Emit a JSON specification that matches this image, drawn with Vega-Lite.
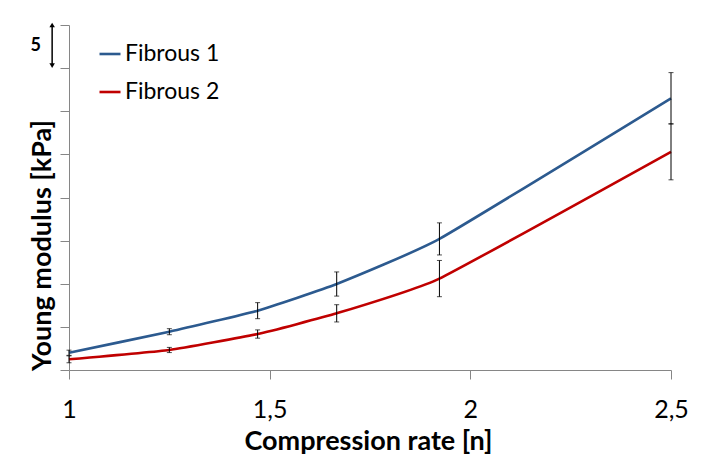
{
  "$schema": "https://vega.github.io/schema/vega-lite/v6.json",
  "width": 602,
  "height": 345,
  "autosize": {"type": "none"},
  "padding": {"left": 69, "top": 25, "right": 37, "bottom": 88},
  "background": "white",
  "config": {
    "view": {"stroke": null},
    "font": "Lato"
  },
  "datasets": {
    "main": [
      {"series": "Fibrous 1", "rate": 1.0, "value": 2.0, "lo": 1.7, "hi": 2.3},
      {"series": "Fibrous 1", "rate": 1.25, "value": 4.44, "lo": 4.09, "hi": 4.79},
      {"series": "Fibrous 1", "rate": 1.47, "value": 6.88, "lo": 5.95, "hi": 7.81},
      {"series": "Fibrous 1", "rate": 1.667, "value": 9.97, "lo": 8.57, "hi": 11.37},
      {"series": "Fibrous 1", "rate": 1.923, "value": 15.2, "lo": 13.34, "hi": 17.06},
      {"series": "Fibrous 1", "rate": 2.5, "value": 31.5, "lo": 28.52, "hi": 34.48},
      {"series": "Fibrous 2", "rate": 1.0, "value": 1.24, "lo": 0.84, "hi": 1.64},
      {"series": "Fibrous 2", "rate": 1.25, "value": 2.32, "lo": 2.02, "hi": 2.62},
      {"series": "Fibrous 2", "rate": 1.47, "value": 4.17, "lo": 3.69, "hi": 4.65},
      {"series": "Fibrous 2", "rate": 1.667, "value": 6.57, "lo": 5.57, "hi": 7.57},
      {"series": "Fibrous 2", "rate": 1.923, "value": 10.6, "lo": 8.5, "hi": 12.7},
      {"series": "Fibrous 2", "rate": 2.5, "value": 25.3, "lo": 22.05, "hi": 28.55}
    ],
    "scalebar": [
      {"rate": 0.958, "lo": 35.3, "hi": 40.0, "label": "5", "labelRate": 0.917, "labelValue": 37.6}
    ]
  },
  "encoding": {
    "x": {
      "type": "quantitative",
      "scale": {"domain": [1, 2.5], "nice": false, "zero": false}
    },
    "y": {
      "type": "quantitative",
      "scale": {"domain": [0, 40], "nice": false}
    }
  },
  "layer": [
    {
      "data": {"name": "main"},
      "mark": {"type": "line", "strokeWidth": 2.6, "interpolate": "cardinal", "tension": 0.6},
      "encoding": {
        "x": {
          "field": "rate",
          "type": "quantitative",
          "scale": {"domain": [1, 2.5], "nice": false, "zero": false},
          "axis": {
            "values": [1, 1.5, 2, 2.5],
            "labelExpr": "replace(toString(datum.value), '.', ',')",
            "grid": false,
            "domainColor": "#868686",
            "tickColor": "#868686",
            "tickSize": 9,
            "labelFont": "Lato",
            "labelFontSize": 25,
            "labelColor": "black",
            "labelPadding": 18,
            "labelBaseline": "top",
            "labelFlush": false,
            "title": "Compression rate [n]",
            "titleFont": "Lato",
            "titleFontSize": 27,
            "titleFontWeight": "bold",
            "titleColor": "black",
            "titleBaseline": "alphabetic",
            "titleY": 79,
            "titleX": 299
          }
        },
        "y": {
          "field": "value",
          "type": "quantitative",
          "scale": {"domain": [0, 40], "nice": false},
          "axis": {
            "values": [0, 5, 10, 15, 20, 25, 30, 35, 40],
            "labels": false,
            "grid": false,
            "domainColor": "#868686",
            "tickColor": "#868686",
            "tickSize": 9,
            "title": "Young modulus [kPa]",
            "titleFont": "Lato",
            "titleFontSize": 27,
            "titleFontWeight": "bold",
            "titleColor": "black",
            "titleBaseline": "alphabetic",
            "titleAngle": -90,
            "titleX": -19,
            "titleY": 220
          }
        },
        "color": {
          "field": "series",
          "type": "nominal",
          "scale": {"domain": ["Fibrous 1", "Fibrous 2"], "range": ["#2C5A8F", "#C00000"]},
          "legend": {
            "title": null,
            "orient": "none",
            "legendX": 29,
            "legendY": 17,
            "padding": 0,
            "symbolType": "stroke",
            "symbolSize": 441,
            "symbolStrokeWidth": 2.6,
            "labelFont": "Lato",
            "labelFontSize": 23,
            "labelColor": "black",
            "labelOffset": 3,
            "rowPadding": 14
          }
        }
      }
    },
    {
      "data": {"name": "main"},
      "mark": {"type": "rule", "color": "black", "strokeWidth": 1},
      "encoding": {
        "x": {"field": "rate", "type": "quantitative"},
        "y": {"field": "lo", "type": "quantitative"},
        "y2": {"field": "hi"}
      }
    },
    {
      "data": {"name": "main"},
      "mark": {"type": "tick", "color": "black", "orient": "horizontal", "size": 5, "thickness": 1},
      "encoding": {
        "x": {"field": "rate", "type": "quantitative"},
        "y": {"field": "lo", "type": "quantitative"}
      }
    },
    {
      "data": {"name": "main"},
      "mark": {"type": "tick", "color": "black", "orient": "horizontal", "size": 5, "thickness": 1},
      "encoding": {
        "x": {"field": "rate", "type": "quantitative"},
        "y": {"field": "hi", "type": "quantitative"}
      }
    },
    {
      "data": {"name": "scalebar"},
      "mark": {"type": "rule", "color": "black", "strokeWidth": 1.5},
      "encoding": {
        "x": {"field": "rate", "type": "quantitative"},
        "y": {"field": "lo", "type": "quantitative"},
        "y2": {"field": "hi"}
      }
    },
    {
      "data": {"name": "scalebar"},
      "mark": {"type": "point", "shape": "triangle-up", "filled": true, "color": "black", "size": 30, "opacity": 1},
      "encoding": {
        "x": {"field": "rate", "type": "quantitative"},
        "y": {"field": "hi", "type": "quantitative"}
      }
    },
    {
      "data": {"name": "scalebar"},
      "mark": {"type": "point", "shape": "triangle-down", "filled": true, "color": "black", "size": 30, "opacity": 1},
      "encoding": {
        "x": {"field": "rate", "type": "quantitative"},
        "y": {"field": "lo", "type": "quantitative"}
      }
    },
    {
      "data": {"name": "scalebar"},
      "mark": {"type": "text", "font": "Lato", "fontSize": 18, "fontWeight": "bold", "color": "black", "align": "center", "baseline": "middle"},
      "encoding": {
        "x": {"field": "labelRate", "type": "quantitative"},
        "y": {"field": "labelValue", "type": "quantitative"},
        "text": {"field": "label"}
      }
    }
  ]
}
